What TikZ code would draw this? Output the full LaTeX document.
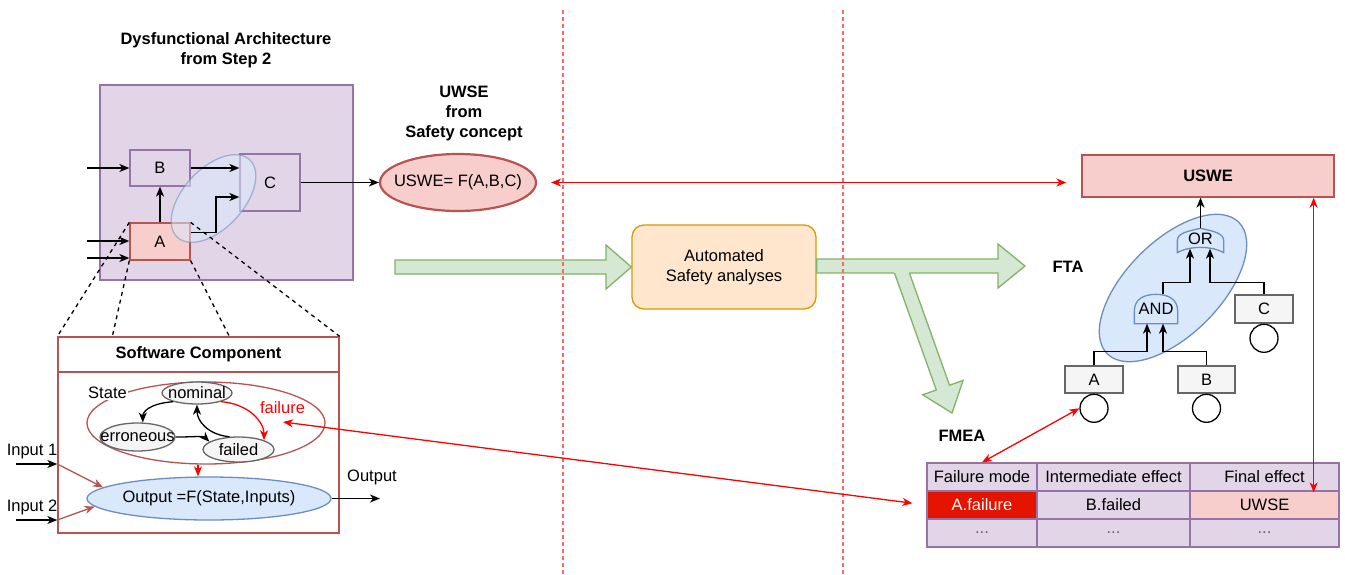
\documentclass[tikz,border=0pt]{standalone}
\usepackage{fontspec}
\setmainfont{Liberation Sans}
\usetikzlibrary{positioning,arrows.meta,shapes.geometric,calc}

\definecolor{purplefill}{HTML}{E1D5E7}
\definecolor{purpledraw}{HTML}{9673A6}
\definecolor{redfill}{HTML}{F8CECC}
\definecolor{reddraw}{HTML}{B85450}
\definecolor{bluefill}{HTML}{DAE8FC}
\definecolor{bluedraw}{HTML}{6C8EBF}
\definecolor{greenfill}{HTML}{D5E8D4}
\definecolor{greendraw}{HTML}{82B366}
\definecolor{orangefill}{HTML}{FFE6CC}
\definecolor{orangedraw}{HTML}{D79B00}
\definecolor{greyfill}{HTML}{F5F5F5}
\definecolor{greydraw}{HTML}{666666}
\definecolor{cellred}{HTML}{E51400}
\definecolor{sepred}{HTML}{FF6666}

\newcommand{\diafont}{\fontsize{16.5}{20}\selectfont}

\begin{document}
\begin{tikzpicture}[x=1pt, y=-1pt, font=\diafont, line width=1.3pt,
>={Stealth[length=10pt,width=8pt,inset=3pt]},
boldtext/.style={font=\diafont\bfseries, align=center},
purplebox/.style={rectangle, draw=purpledraw, fill=purplefill, inner sep=0pt},
redbox/.style={rectangle, draw=reddraw, fill=redfill, inner sep=0pt},
greybox/.style={rectangle, draw=greydraw, fill=greyfill, inner sep=0pt},
swbox/.style={rectangle, draw=reddraw, fill=white, inner sep=0pt},
cell/.style={rectangle, draw=purpledraw, fill=purplefill, inner sep=0pt, minimum height=28pt},
groupell/.style={ellipse, draw=bluedraw, fill=bluefill, opacity=0.55, inner sep=0pt},
ftaell/.style={ellipse, draw=bluedraw, fill=bluefill, inner sep=0pt},
usweell/.style={ellipse, draw=reddraw, fill=redfill, line width=2.2pt, inner sep=0pt},
stateell/.style={ellipse, draw=reddraw, inner sep=0pt},
modeell/.style={ellipse, draw=greydraw, fill=greyfill, inner sep=0pt},
outell/.style={ellipse, draw=bluedraw, fill=bluefill, inner sep=0pt},
autobox/.style={rectangle, rounded corners=12pt, draw=orangedraw, fill=orangefill, align=center},
event/.style={circle, draw=black, fill=white, minimum size=28pt, inner sep=0pt},
gatelbl/.style={inner sep=0pt},
gate/.style={draw=bluedraw, fill=bluefill},
fatarrow/.style={draw=greendraw, fill=greenfill},
sepline/.style={draw=sepred, dash pattern=on 4pt off 3pt, line width=1.3pt},
dashline/.style={draw=black, dash pattern=on 4pt off 4pt},
arr/.style={draw=black, ->},
redarr/.style={draw=red, ->},
brownarr/.style={draw=reddraw, ->}
]
    \path[fill=white] (0,0) rectangle (1345,574);
    \useasboundingbox (0,0) rectangle (1345,574);

    %Big arrows
    \node[autobox, minimum width=184pt, minimum height=84pt]
        (auto)  at (724,267)    {Automated\\Safety analyses};
    \draw[fatarrow] (395,260) -- (606,260) -- (606,245) -- (auto.west)
        -- (606,289) -- (606,274) -- (395,274) -- cycle;
    \draw[fatarrow] (auto.east |- 0,259) -- (998,259) -- (998,244) -- (1025,266)
        -- (998,288) -- (998,273) -- (auto.east |- 0,273) -- cycle;
    \fill[greenfill] (894.2,272.2) -- (936.3,390.0) -- (922.7,394.8) -- (952,413)
        -- (963.1,380.4) -- (949.5,385.2) -- (909.2,272.2) -- cycle;
    \draw[greendraw] (894.5,273) -- (936.3,390.0) -- (922.7,394.8) -- (952,413)
        -- (963.1,380.4) -- (949.5,385.2) -- (909.4,273);

    %Separators
    \draw[sepline] (563,10) -- (563,574);
    \draw[sepline] (843,10) -- (843,574);

    %Architecture
    \node[boldtext]
        (archtitle) at (226,50)     {Dysfunctional Architecture\\from Step 2};
    \node[purplebox, minimum width=253pt, minimum height=195pt]
        (arch)  at (226.5,182.5)    {};
    \node[purplebox, minimum width=60pt, minimum height=36pt]
        (B)     at (160,168)        {B};
    \node[purplebox, minimum width=60pt, minimum height=57pt]
        (C)     at (270,182.5)      {C};
    \node[redbox, minimum width=60pt, minimum height=37pt]
        (A)     at (160,241.5)      {A};
    \node[groupell, minimum width=106pt, minimum height=60pt, rotate=47]
        (grp)   at (213.5,198.5)    {};

    %Safety concept
    \node[boldtext]
        (uswetitle) at (464,113)    {UWSE\\from\\Safety concept};
    \node[usweell, minimum width=156pt, minimum height=57pt, label={center:USWE= F(A,B,C)}]
        (uswe)  at (458,182.5)      {};

    %Software component
    \node[swbox, font=\diafont\bfseries, minimum width=281pt, minimum height=35pt]
        (swhead) at (198.5,354.5)   {Software Component};
    \node[swbox, minimum width=281pt, minimum height=161pt]
        (swbody) at (198.5,452.5)   {};
    \node[stateell, minimum width=238pt, minimum height=82pt]
        (state) at (206,423)        {};
    \node[fill=white, inner sep=1pt]
        (statelbl) at (107.5,393)   {State};
    \node[modeell, minimum width=70pt, minimum height=22pt, label=center:nominal]
        (nom)   at (197,393)        {};
    \node[modeell, minimum width=75pt, minimum height=28pt, label=center:erroneous]
        (err)   at (137.5,437)      {};
    \node[modeell, minimum width=71pt, minimum height=25pt, label=center:failed]
        (fail)  at (238.5,449.5)    {};
    \node[text=red]
        (failurelbl) at (282.5,408) {failure};
    \node[outell, minimum width=244pt, minimum height=43pt, label={center:Output =F(State,Inputs)}]
        (out)   at (209,498.5)      {};
    \node
        (outlbl) at (372,477)       {Output};
    \node
        (in1lbl) at (32,452)        {Input 1};
    \node
        (in2lbl) at (32,507)        {Input 2};
    \coordinate (in1) at (16,464);
    \coordinate (in2) at (16,520);
    \coordinate (outend) at (380,498.5);
    \coordinate (failpt) at (283,422);

    %FTA
    \node[redbox, font=\diafont\bfseries, minimum width=252pt, minimum height=42pt]
        (top)   at (1208,176)       {USWE};
    \node[boldtext]
        (ftalbl) at (1068,267)      {FTA};
    \node[ftaell, minimum width=186pt, minimum height=94pt, rotate=45]
        (ftagrp) at (1173,288)      {};
    \node[gatelbl, minimum width=45pt, minimum height=23pt]
        (org)   at (1200.5,240.5)   {};
    \node[gatelbl, minimum width=42pt, minimum height=28pt]
        (andg)  at (1156,309)       {};
    \draw[gate] (org.west) .. controls +(0,-7) and +(-14,3) .. (org.north)
        .. controls +(14,3) and +(0,-7) .. (org.east) -- (org.south east)
        .. controls +(-12,-7) and +(12,-7) .. (org.south west) -- cycle;
    \draw[gate] (andg.south west) -- (andg.south east) -- ($(andg.east)+(0,2)$)
        .. controls +(0,-12) and +(12,0) .. (andg.north)
        .. controls +(-12,0) and +(0,-12) .. ($(andg.west)+(0,2)$) -- cycle;
    \node at ($(org.center)+(0,-2)$) {OR};
    \node at (andg.center) {AND};
    \node[greybox, minimum width=58pt, minimum height=28pt]
        (fC)    at (1264,309)       {C};
    \node[greybox, minimum width=58pt, minimum height=27pt]
        (fA)    at (1094,379.5)     {A};
    \node[greybox, minimum width=57pt, minimum height=27pt]
        (fB)    at (1206.5,379.5)   {B};
    \node[event]
        (eC)    [below=0pt of fC]   {};
    \node[event]
        (eA)    [below=0pt of fA]   {};
    \node[event]
        (eB)    [below=0pt of fB]   {};

    %FMEA
    \node[boldtext]
        (fmealbl) at (962,436)      {FMEA};
    \node[cell, minimum width=110pt]
        (fm)    at (982,477)        {Failure mode};
    \node[cell, minimum width=153pt]
        (ie)    at (1113.5,477)     {Intermediate effect};
    \node[cell, minimum width=149pt]
        (fe)    at (1264.5,477)     {Final effect};
    \node[cell, fill=cellred, text=white, minimum width=110pt]
        (fa)    at (982,505)        {A.failure};
    \node[cell, minimum width=153pt]
        (ib)    at (1113.5,505)     {B.failed};
    \node[cell, fill=redfill, minimum width=149pt]
        (fu)    at (1264.5,505)     {UWSE};
    \node[cell, text=greydraw, minimum width=110pt]
        (d1)    at (982,533)        {...};
    \node[cell, text=greydraw, minimum width=153pt]
        (d2)    at (1113.5,533)     {...};
    \node[cell, text=greydraw, minimum width=149pt]
        (d3)    at (1264.5,533)     {...};
    \coordinate (rv) at ($(top.south east)+(-21,0)$);

    %Lines
    \draw[arr] (87,168) -- (B.west);
    \draw[arr] (87,241) -- (A.west |- 0,241);
    \draw[arr] (87,258) -- (A.west |- 0,258);
    \draw[arr] (A.north) -- (B.south);
    \draw[arr] (B.east) -- (C.west |- B.east);
    \draw[arr] ($(A.east)+(0,-9)$) -| (216,197) -- (C.west |- 0,197);
    \draw[arr] (C.east) -- (uswe.west);
    \draw[dashline] (A.north west) -- (swhead.north west);
    \draw[dashline] (A.south west) -- ($(swhead.north west)+(55,0)$);
    \draw[dashline] (A.south east) -- ($(swhead.north west)+(172,0)$);
    \draw[dashline] (A.north east) -- (swhead.north east);

    \draw[arr] (nom.200) .. controls +(-25,2) and +(0,-10) .. (err.70);
    \draw[arr] (fail.125) .. controls +(-22,-2) and +(0,16) .. (nom.south);
    \draw[arr] (err.east) .. controls +(20,0) and +(-6,-6) .. (fail.165);
    \draw[redarr] (nom.340) .. controls +(28,2) and +(0,-18) .. (fail.20);
    \draw[redarr] ([xshift=-8pt]state.south) -- ([xshift=-11pt]out.north);
    \draw[arr] (out.east) -- (outend);
    \draw[arr] (in1) -- (in1 -| swbody.west);
    \draw[arr] (in2) -- (in2 -| swbody.west);
    \draw[brownarr] (in1 -| swbody.west) -- (out.174);
    \draw[brownarr] (in2 -| swbody.west) -- (out.184);

    \draw[arr] (org.north) -- (org.north |- top.south);
    \draw[arr] ($(andg.north)+(7,0)$) |- ($(org.south)+(-10.5,30)$) -- ($(org.south)+(-10.5,-4)$);
    \draw[arr] (fC.north) |- ($(org.south)+(9.5,30)$) -- ($(org.south)+(9.5,-4)$);
    \draw[arr] (fA.north) |- ($(andg.south)+(-9,28)$) -- ($(andg.south)+(-9,0)$);
    \draw[arr] (fB.north) |- ($(andg.south)+(7,28)$) -- ($(andg.south)+(7,0)$);

    \draw[redarr, <->, shorten <=14pt, shorten >=15pt] (uswe.east) -- (uswe.east -| top.west);
    \draw[redarr, <->] (rv) -- ($(rv |- fu.north)+(0,2)$);
    \draw[redarr, <->] (fm.north) -- (eA.west);
    \draw[redarr, <->, shorten >=14pt] (failpt) -- (fa.west);
\end{tikzpicture}
\end{document}
